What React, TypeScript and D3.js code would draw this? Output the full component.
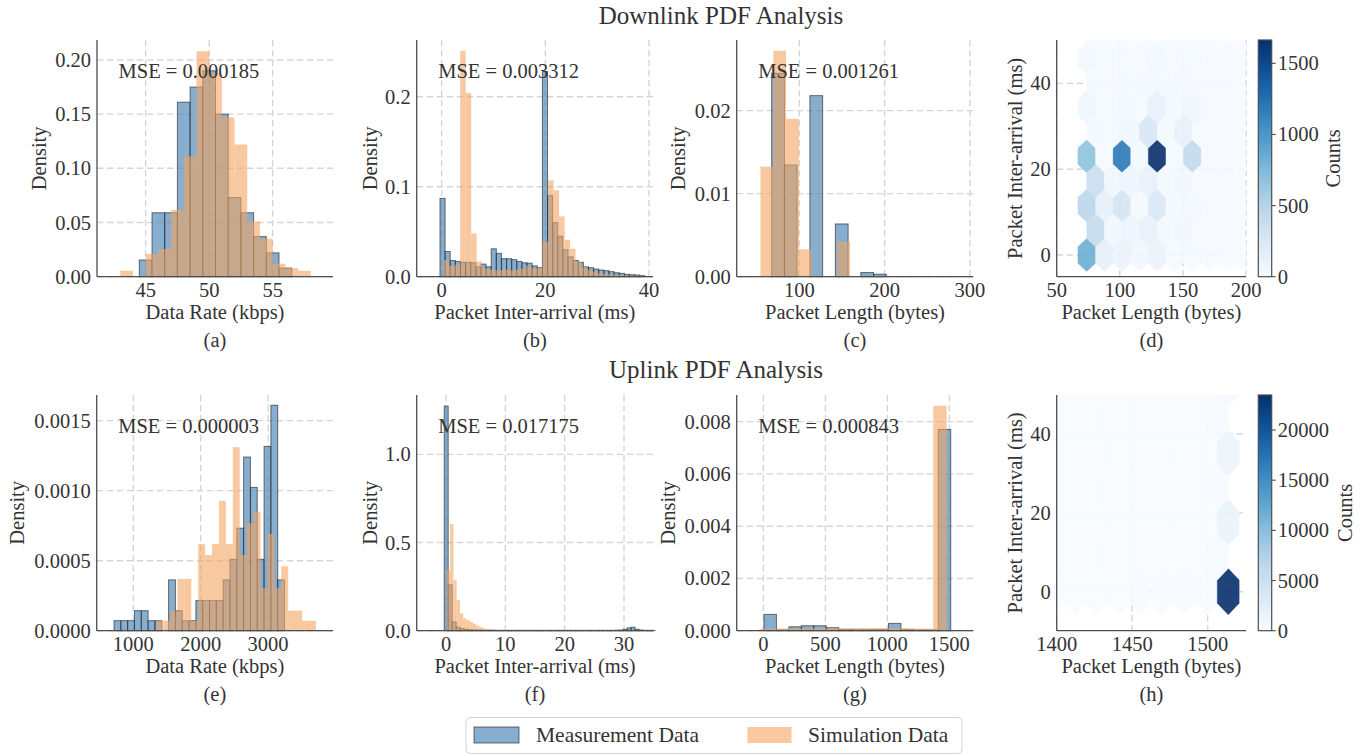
import React, { useEffect } from "react";
import * as d3 from "d3";

const FONT = "'Liberation Serif', 'DejaVu Serif', serif";
const INK = "#333333";
const SPINE = "#4d4d4d";
const GRID = "#d6d6d6";
const MEAS_FILL = "#4682b4";
const SIM_FILL = "#f4a460";

// ---------- (a) downlink data rate, kbps
const dlRateMeasStart = 44.5;
const dlRateMeasWidth = 1;
const dlRateMeas = [0.0154, 0.059, 0.059, 0.161, 0.175, 0.19, 0.15, 0.073, 0.059, 0.037, 0.022, 0.008];
const dlRateSimStart = 43;
const dlRateSimWidth = 1;
const dlRateSim = [0.0055, 0, 0.021, 0.0255, 0.0615, 0.111, 0.208, 0.188, 0.147, 0.122, 0.051, 0.035, 0.012, 0.008, 0.0055];

// ---------- (b) downlink inter-arrival, ms
const dlIatMeasStart = -0.32;
const dlIatMeasWidth = 0.988;
const dlIatMeas = [
  0.087, 0.028, 0.018, 0.017, 0.016, 0.016, 0.0155, 0.011, 0.014, 0.011,
  0.031, 0.026, 0.02, 0.02, 0.019, 0.017, 0.0155, 0.015, 0.012, 0.01,
  0.228, 0.09, 0.06, 0.045, 0.03, 0.022, 0.018, 0.016, 0.011, 0.01,
  0.0085, 0.0074, 0.0067, 0.0056, 0.0044, 0.0037, 0.0026, 0.0022, 0.0019, 0.0011,
];
const dlIatSimStart = 0.4;
const dlIatSimWidth = 1.06;
const dlIatSim = [
  0.0185, 0.012, 0.013, 0.251, 0.204, 0.048, 0.0167, 0.009, 0.008, 0.007,
  0.007, 0.008, 0.007, 0.008, 0.009, 0.012, 0.009, 0.01, 0.039, 0.107,
  0.096, 0.067, 0.041, 0.031, 0.0167, 0.011, 0.0074, 0.0055, 0.004, 0.003,
  0.0025, 0.002, 0.0015, 0.001, 0.001, 0.0007,
];

// ---------- (c) downlink packet length, bytes
const dlLenMeasStart = 67.6;
const dlLenMeasWidth = 14.93;
const dlLenMeas = [0.0245, 0.01345, 0, 0.0218, 0, 0.00635, 0, 0.0005, 0.0003];
const dlLenSimStart = 54.5;
const dlLenSimWidth = 15;
const dlLenSim = [0.01325, 0.0272, 0.019, 0.0033, 0, 0, 0.0042];

// ---------- (d) downlink hexbin (lattice, column, row, count)
const dlHexOrigin = [73.8, 0];
const dlHexStep = [13.95, 11.5];
const dlHexGrid = [9, 5];
const dlHexCells: [number, number, number, number][] = [
  [1, 0, 0, 830], [1, 0, 1, 470], [1, 0, 2, 680], [1, 0, 3, 55], [1, 0, 4, 45],
  [1, 1, 0, 160], [1, 1, 1, 160], [1, 1, 2, 20], [1, 1, 3, 30], [1, 1, 4, 25],
  [1, 2, 0, 100], [1, 2, 1, 300], [1, 2, 2, 1200], [1, 2, 3, 35], [1, 2, 4, 25],
  [1, 3, 0, 50], [1, 3, 1, 40], [1, 3, 2, 40], [1, 3, 3, 30], [1, 3, 4, 20],
  [1, 4, 0, 100], [1, 4, 1, 260], [1, 4, 2, 1664], [1, 4, 3, 130], [1, 4, 4, 40],
  [1, 5, 0, 30], [1, 5, 1, 40], [1, 5, 2, 30], [1, 5, 3, 40], [1, 5, 4, 20],
  [1, 6, 0, 25], [1, 6, 1, 45], [1, 6, 2, 430], [1, 6, 3, 70], [1, 6, 4, 30],
  [1, 7, 0, 15], [1, 7, 1, 15], [1, 7, 2, 20], [1, 7, 3, 20], [1, 7, 4, 15],
  [1, 8, 0, 10], [1, 8, 1, 10], [1, 8, 2, 10], [1, 8, 3, 15], [1, 8, 4, 15],
  [1, 9, 0, 10], [1, 9, 1, 10], [1, 9, 2, 10], [1, 9, 3, 10], [1, 9, 4, 10],
  [2, 0, 0, 420], [2, 0, 1, 370], [2, 0, 2, 45], [2, 0, 3, 30],
  [2, 1, 0, 50], [2, 1, 1, 70], [2, 1, 2, 30], [2, 1, 3, 20],
  [2, 2, 0, 90], [2, 2, 1, 90], [2, 2, 2, 60], [2, 2, 3, 25],
  [2, 3, 0, 130], [2, 3, 1, 130], [2, 3, 2, 270], [2, 3, 3, 40],
  [2, 4, 0, 40], [2, 4, 1, 40], [2, 4, 2, 40], [2, 4, 3, 30],
  [2, 5, 0, 50], [2, 5, 1, 50], [2, 5, 2, 130], [2, 5, 3, 40],
  [2, 6, 0, 20], [2, 6, 1, 20], [2, 6, 2, 25], [2, 6, 3, 20],
  [2, 7, 0, 15], [2, 7, 1, 15], [2, 7, 2, 15], [2, 7, 3, 15],
  [2, 8, 0, 10], [2, 8, 1, 10], [2, 8, 2, 10], [2, 8, 3, 10],
];
const dlHexMax = 1664;
const dlCbTicks = [0, 500, 1000, 1500];

// ---------- (e) uplink data rate, kbps
const ulRateMeasStart = 714;
const ulRateMeasWidth = 101.2;
const ulRateMeas = [
  7.15e-5, 7.15e-5, 7.15e-5, 1.43e-4, 1.43e-4, 7.15e-5, 7.15e-5, 0, 3.63e-4, 1.43e-4,
  7.15e-5, 7.15e-5, 2.15e-4, 2.15e-4, 2.15e-4, 2.15e-4, 3.63e-4, 5.1e-4, 7.32e-4, 1.24e-3,
  1.023e-3, 5.1e-4, 1.316e-3, 1.61e-3, 3.63e-4,
];
const ulRateSimStart = 1346.7;
const ulRateSimWidth = 102.7;
const ulRateSim = [
  7.15e-5, 7.15e-5, 1.43e-4, 3.7e-4, 3.7e-4, 7.15e-5, 6.18e-4, 5.4e-4, 6.18e-4, 9.28e-4,
  6.18e-4, 1.31e-3, 5.4e-4, 7.68e-4, 8.5e-4, 3.03e-4, 6.9e-4, 3.03e-4, 4.6e-4, 1.43e-4,
  1.43e-4, 7.15e-5, 7.15e-5,
];

// ---------- (f) uplink inter-arrival, ms
const ulIatMeasStart = -0.3;
const ulIatMeasWidth = 0.67;
const ulIatMeas = [
  1.274, 0.26, 0.05, 0.02, 0.012, 0.008, 0.006, 0.005, 0.004, 0.004,
  0.003, 0.003, 0.003, 0.002, 0.002, 0.002, 0.002, 0.002, 0.002, 0.002,
  0.002, 0.002, 0.002, 0.002, 0.002, 0.002, 0.002, 0.002, 0.002, 0.002,
  0.002, 0.002, 0.002, 0.002, 0.002, 0.002, 0.002, 0.002, 0.002, 0.002,
  0.002, 0.002, 0.002, 0.003, 0.004, 0.008, 0.016, 0.02, 0.008, 0.004,
  0.002, 0.002, 0.002,
];
const ulIatSimStart = 0.15;
const ulIatSimWidth = 0.55;
const ulIatSim = [
  0.344, 0.605, 0.287, 0.174, 0.098, 0.07, 0.06, 0.05, 0.04, 0.028,
  0.019, 0.012, 0.008, 0.006, 0.005, 0.004, 0.004, 0.003, 0.003, 0.003,
  0.003, 0.003, 0.002, 0.002, 0.002, 0.002, 0.002, 0.002, 0.002, 0.002,
  0.002, 0.002, 0.002, 0.002, 0.002, 0.002, 0.002, 0.002, 0.002, 0.002,
  0.002, 0.002, 0.002, 0.002, 0.002, 0.002, 0.002, 0.002, 0.002, 0.002,
  0.002, 0.002, 0.002, 0.002, 0.003, 0.004, 0.003, 0.002, 0.002, 0.002,
  0.002, 0.002, 0.002,
];

// ---------- (g) uplink packet length, bytes
const ulLenMeasStart = 5;
const ulLenMeasWidth = 100.4;
const ulLenMeas = [0.000625, 0.00003, 0.00015, 0.00019, 0.00019, 0.000115, 0.00005, 0.00005, 0.00005, 0.00005, 0.00028, 0.00005, 0.00003, 0.00003, 0.0077];
const ulLenSimStart = -30;
const ulLenSimWidth = 107.7;
const ulLenSim = [0.00008, 0.00008, 0.00009, 0.00009, 0.0001, 0.0001, 0.00009, 0.00009, 0.00009, 0.00009, 0.00009, 0.00008, 0.00008, 0.00861];

// ---------- (h) uplink hexbin (lattice, column, row, count)
const ulHexOrigin = [1383.4, 0];
const ulHexStep = [14.47, 17.6];
const ulHexGrid = [9, 5];
const ulHexCells: [number, number, number, number][] = [
  [1, 9, 0, 23490], [1, 9, 1, 1500], [1, 9, 2, 1300], [1, 9, 3, 400],
  [1, 8, 0, 120], [1, 7, 0, 100], [1, 6, 0, 100], [1, 5, 0, 100],
  [2, 8, 0, 150], [2, 8, 1, 120], [2, 8, 2, 100],
];
const ulHexMax = 23490;
const ulCbTicks = [0, 5000, 10000, 15000, 20000];

// ---------- texts
const mseTexts = ["MSE = 0.000185", "MSE = 0.003312", "MSE = 0.001261", "MSE = 0.000003", "MSE = 0.017175", "MSE = 0.000843"];
const legendLabels = ["Measurement Data", "Simulation Data"];
const rowTitles = ["Downlink PDF Analysis", "Uplink PDF Analysis"];

type Box = { left: number; right: number; top: number; bottom: number };
type Hist = { start: number; width: number; values: number[] };

const ROW1 = { top: 40, bottom: 276.7 };
const ROW2 = { top: 395, bottom: 630.7 };

type HistSpec = {
  box: Box; xDomain: [number, number]; yDomain: [number, number];
  xTicks: number[]; yTicks: number[]; yFmt: string;
  meas: Hist; sim: Hist; mse: string; xLabel: string; tag: string; yLabelX: number;
};

const histPanels: HistSpec[] = [
  {
    box: { left: 97, right: 333, ...ROW1 }, xDomain: [41.17, 59.75], yDomain: [0, 0.2184],
    xTicks: [45, 50, 55], yTicks: [0, 0.05, 0.1, 0.15, 0.2], yFmt: ".2f",
    meas: { start: dlRateMeasStart, width: dlRateMeasWidth, values: dlRateMeas },
    sim: { start: dlRateSimStart, width: dlRateSimWidth, values: dlRateSim },
    mse: mseTexts[0], xLabel: "Data Rate (kbps)", tag: "(a)", yLabelX: 39,
  },
  {
    box: { left: 416.7, right: 653, ...ROW1 }, xDomain: [-4.81, 40.77], yDomain: [0, 0.263],
    xTicks: [0, 20, 40], yTicks: [0, 0.1, 0.2], yFmt: ".1f",
    meas: { start: dlIatMeasStart, width: dlIatMeasWidth, values: dlIatMeas },
    sim: { start: dlIatSimStart, width: dlIatSimWidth, values: dlIatSim },
    mse: mseTexts[1], xLabel: "Packet Inter-arrival (ms)", tag: "(b)", yLabelX: 370,
  },
  {
    box: { left: 736.7, right: 973.3, ...ROW1 }, xDomain: [26.6, 303.9], yDomain: [0, 0.0285],
    xTicks: [100, 200, 300], yTicks: [0, 0.01, 0.02], yFmt: ".2f",
    meas: { start: dlLenMeasStart, width: dlLenMeasWidth, values: dlLenMeas },
    sim: { start: dlLenSimStart, width: dlLenSimWidth, values: dlLenSim },
    mse: mseTexts[2], xLabel: "Packet Length (bytes)", tag: "(c)", yLabelX: 678,
  },
  {
    box: { left: 96.7, right: 333, ...ROW2 }, xDomain: [457, 3963], yDomain: [0, 0.001683],
    xTicks: [1000, 2000, 3000], yTicks: [0, 0.0005, 0.001, 0.0015], yFmt: ".4f",
    meas: { start: ulRateMeasStart, width: ulRateMeasWidth, values: ulRateMeas },
    sim: { start: ulRateSimStart, width: ulRateSimWidth, values: ulRateSim },
    mse: mseTexts[3], xLabel: "Data Rate (kbps)", tag: "(e)", yLabelX: 17,
  },
  {
    box: { left: 416.7, right: 653.3, ...ROW2 }, xDomain: [-4.94, 34.94], yDomain: [0, 1.337],
    xTicks: [0, 10, 20, 30], yTicks: [0, 0.5, 1], yFmt: ".1f",
    meas: { start: ulIatMeasStart, width: ulIatMeasWidth, values: ulIatMeas },
    sim: { start: ulIatSimStart, width: ulIatSimWidth, values: ulIatSim },
    mse: mseTexts[4], xLabel: "Packet Inter-arrival (ms)", tag: "(f)", yLabelX: 370,
  },
  {
    box: { left: 736.7, right: 973.3, ...ROW2 }, xDomain: [-215, 1693], yDomain: [0, 0.00902],
    xTicks: [0, 500, 1000, 1500], yTicks: [0, 0.002, 0.004, 0.006, 0.008], yFmt: ".3f",
    meas: { start: ulLenMeasStart, width: ulLenMeasWidth, values: ulLenMeas },
    sim: { start: ulLenSimStart, width: ulLenSimWidth, values: ulLenSim },
    mse: mseTexts[5], xLabel: "Packet Length (bytes)", tag: "(g)", yLabelX: 668,
  },
];

type HexSpec = {
  id: string; box: Box; xDomain: [number, number]; yDomain: [number, number];
  xTicks: number[]; yTicks: number[]; origin: number[]; step: number[]; grid: number[];
  cells: [number, number, number, number][]; vmax: number; cbTicks: number[];
  tag: string; countsX: number;
};

const hexPanels: HexSpec[] = [
  {
    id: "d", box: { left: 1056.7, right: 1246, ...ROW1 }, xDomain: [50, 200], yDomain: [-5.05, 50.1],
    xTicks: [50, 100, 150, 200], yTicks: [0, 20, 40], origin: dlHexOrigin, step: dlHexStep, grid: dlHexGrid,
    cells: dlHexCells, vmax: dlHexMax, cbTicks: dlCbTicks, tag: "(d)", countsX: 1333,
  },
  {
    id: "h", box: { left: 1056.7, right: 1246, ...ROW2 }, xDomain: [1400, 1525.4], yDomain: [-9.9, 49.9],
    xTicks: [1400, 1450, 1500], yTicks: [0, 20, 40], origin: ulHexOrigin, step: ulHexStep, grid: ulHexGrid,
    cells: ulHexCells, vmax: ulHexMax, cbTicks: ulCbTicks, tag: "(h)", countsX: 1345,
  },
];

const FS = 20.5;

function Axes({ box, x, y, xTicks, yTicks, yFmt, xLabel, tag, yLabel, yLabelX }: any) {
  const cx = (box.left + box.right) / 2;
  const cy = (box.top + box.bottom) / 2;
  const fy = d3.format(yFmt);
  return (
    <g fontFamily={FONT} fill={INK}>
      <line x1={box.left} x2={box.left} y1={box.top} y2={box.bottom} stroke={SPINE} strokeWidth={1.3} />
      <line x1={box.left} x2={box.right} y1={box.bottom} y2={box.bottom} stroke={SPINE} strokeWidth={1.3} />
      {xTicks.map((t: number) => (
        <text key={`x${t}`} x={x(t)} y={box.bottom + 20.5} textAnchor="middle" fontSize={FS}>{d3.format("d")(t)}</text>
      ))}
      {yTicks.map((t: number) => (
        <text key={`y${t}`} x={box.left - 6} y={y(t) + 7} textAnchor="end" fontSize={FS}>{fy(t)}</text>
      ))}
      <text x={cx} y={box.bottom + 42.5} textAnchor="middle" fontSize={FS}>{xLabel}</text>
      <text x={cx} y={box.bottom + 70} textAnchor="middle" fontSize={FS}>{tag}</text>
      <text transform={`translate(${yLabelX},${cy}) rotate(-90)`} textAnchor="middle" dominantBaseline="central" fontSize={FS}>{yLabel}</text>
    </g>
  );
}

function Grid({ box, x, y, xTicks, yTicks }: any) {
  return (
    <g stroke={GRID} strokeWidth={1.4} strokeDasharray="6.5,3.5">
      {xTicks.map((t: number) => <line key={`gx${t}`} x1={x(t)} x2={x(t)} y1={box.top} y2={box.bottom} />)}
      {yTicks.map((t: number) => <line key={`gy${t}`} x1={box.left} x2={box.right} y1={y(t)} y2={y(t)} />)}
    </g>
  );
}

function HistPanel({ p }: { p: HistSpec }) {
  const { box } = p;
  const x = d3.scaleLinear().domain(p.xDomain).range([box.left, box.right]);
  const y = d3.scaleLinear().domain(p.yDomain).range([box.bottom, box.top]);
  const bars = (h: Hist, meas: boolean) =>
    h.values.map((v, i) => {
      if (v <= 0) return null;
      const x0 = x(h.start + i * h.width);
      const x1 = x(h.start + (i + 1) * h.width);
      return meas ? (
        <rect key={`m${i}`} x={x0} y={y(v)} width={x1 - x0} height={y(0) - y(v)}
          fill={MEAS_FILL} fillOpacity={0.65} stroke="#1a1a1a" strokeOpacity={0.6} strokeWidth={1} />
      ) : (
        <rect key={`s${i}`} x={x0} y={y(v)} width={x1 - x0} height={y(0) - y(v)} fill={SIM_FILL} fillOpacity={0.6} />
      );
    });
  return (
    <g>
      <Grid box={box} x={x} y={y} xTicks={p.xTicks} yTicks={p.yTicks} />
      <g>{bars(p.meas, true)}</g>
      <g>{bars(p.sim, false)}</g>
      <text x={box.left + 21.5} y={box.top + 38} fontFamily={FONT} fontSize={20.5} fill={INK}>{p.mse}</text>
      <Axes box={box} x={x} y={y} xTicks={p.xTicks} yTicks={p.yTicks} yFmt={p.yFmt}
        xLabel={p.xLabel} tag={p.tag} yLabel="Density" yLabelX={p.yLabelX} />
    </g>
  );
}

function HexPanel({ p }: { p: HexSpec }) {
  const { box } = p;
  const x = d3.scaleLinear().domain(p.xDomain).range([box.left, box.right]);
  const y = d3.scaleLinear().domain(p.yDomain).range([box.bottom, box.top]);
  const color = d3.scaleSequential(d3.interpolateBlues).domain([0, p.vmax]);
  const [x0, y0] = p.origin;
  const [sx, sy] = p.step;
  const [nx, ny] = p.grid;
  const lookup = new Map<string, number>();
  p.cells.forEach(([l, k, j, c]) => lookup.set(`${l}-${k}-${j}`, c));
  const hexes: { cx: number; cy: number; c: number; key: string }[] = [];
  for (let k = 0; k <= nx; k++)
    for (let j = 0; j <= ny; j++)
      hexes.push({ cx: x0 + k * sx, cy: y0 + j * sy, c: lookup.get(`1-${k}-${j}`) ?? 0, key: `1-${k}-${j}` });
  for (let k = 0; k < nx; k++)
    for (let j = 0; j < ny; j++)
      hexes.push({ cx: x0 + (k + 0.5) * sx, cy: y0 + (j + 0.5) * sy, c: lookup.get(`2-${k}-${j}`) ?? 0, key: `2-${k}-${j}` });
  const offs = [[0.5, -0.5], [0.5, 0.5], [0, 1], [-0.5, 0.5], [-0.5, -0.5], [0, -1]];
  const pts = (cx: number, cy: number) =>
    offs.map(([a, b]) => `${x(cx + a * sx)},${y(cy + (b * sy) / 3)}`).join(" ");

  const cbLeft = 1258.3;
  const cbW = 13.4;
  const cbY = d3.scaleLinear().domain([0, p.vmax]).range([box.bottom, box.top]);
  const stops = d3.range(0, 1.0001, 0.05);
  const cy = (box.top + box.bottom) / 2;
  return (
    <g>
      <defs>
        <clipPath id={`clip-${p.id}`}>
          <rect x={box.left} y={box.top} width={box.right - box.left} height={box.bottom - box.top} />
        </clipPath>
        <linearGradient id={`cb-${p.id}`} x1="0" y1="1" x2="0" y2="0">
          {stops.map((s) => <stop key={s} offset={s} stopColor={d3.interpolateBlues(s)} />)}
        </linearGradient>
      </defs>
      <Grid box={box} x={x} y={y} xTicks={p.xTicks} yTicks={p.yTicks} />
      <g clipPath={`url(#clip-${p.id})`}>
        {hexes.map((h) => (
          <polygon key={h.key} points={pts(h.cx, h.cy)} fill={color(h.c)} fillOpacity={0.9}
            stroke={color(h.c)} strokeOpacity={0.9} strokeWidth={0.4} />
        ))}
      </g>
      <Axes box={box} x={x} y={y} xTicks={p.xTicks} yTicks={p.yTicks} yFmt="d"
        xLabel="Packet Length (bytes)" tag={p.tag} yLabel="Packet Inter-arrival (ms)" yLabelX={1015} />
      <rect x={cbLeft} y={box.top} width={cbW} height={box.bottom - box.top} fill={`url(#cb-${p.id})`}
        stroke={SPINE} strokeWidth={1.2} />
      <g fontFamily={FONT} fill={INK} fontSize={FS}>
        {p.cbTicks.map((t) => (
          <g key={t}>
            <line x1={cbLeft + cbW} x2={cbLeft + cbW + 4} y1={cbY(t)} y2={cbY(t)} stroke={SPINE} strokeWidth={1.1} />
            <text x={cbLeft + cbW + 6} y={cbY(t) + 7}>{t}</text>
          </g>
        ))}
        <text transform={`translate(${p.countsX},${cy}) rotate(-90)`} textAnchor="middle" dominantBaseline="central">Counts</text>
      </g>
    </g>
  );
}

function Legend() {
  return (
    <g fontFamily={FONT} fontSize={21.5} fill={INK}>
      <rect x={466} y={717.5} width={496} height={36} rx={4} fill="#fff" stroke="#d4d4d4" strokeWidth={1} />
      <rect x={474} y={727} width={45} height={16} fill={MEAS_FILL} fillOpacity={0.65} stroke="#1a1a1a" strokeOpacity={0.6} />
      <text x={536} y={742}>{legendLabels[0]}</text>
      <rect x={747.5} y={727} width={44} height={16} fill={SIM_FILL} fillOpacity={0.6} />
      <text x={808} y={742}>{legendLabels[1]}</text>
    </g>
  );
}

export default function App() {
  useEffect(() => {
    document.body.style.margin = "0";
  }, []);
  return (
    <svg width={1372} height={754} viewBox="0 0 1372 754" style={{ position: "absolute", left: 0, top: 0, background: "#fff" }}>
      <rect width={1372} height={754} fill="#fff" />
      <text x={721} y={24} textAnchor="middle" fontFamily={FONT} fontSize={25} fill={INK}>{rowTitles[0]}</text>
      <text x={716} y={378} textAnchor="middle" fontFamily={FONT} fontSize={25} fill={INK}>{rowTitles[1]}</text>
      {histPanels.map((p, i) => <HistPanel key={i} p={p} />)}
      {hexPanels.map((p) => <HexPanel key={p.id} p={p} />)}
      <Legend />
    </svg>
  );
}
